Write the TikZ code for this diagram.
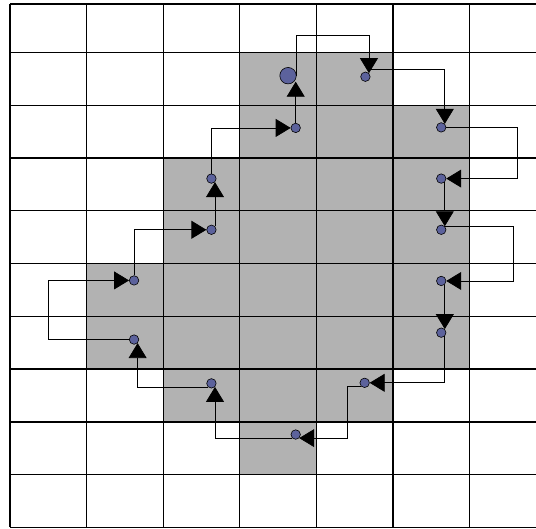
\documentclass[tikz,border=0pt]{standalone}
\usepackage{xcolor}
\usetikzlibrary{arrows.meta}

\definecolor{pixgray}{RGB}{178,178,178}
\definecolor{dotblue}{RGB}{92,98,156}

\tikzset{
  dot/.style={circle,draw=black,fill=dotblue,line width=.6pt,inner sep=0pt,minimum size=9.5pt},
  startdot/.style={dot,minimum size=16.5pt},
  link/.style={line width=.7pt,-{Triangle[length=15pt,width=18pt]}}
}

\begin{document}
\begin{tikzpicture}[x=2.7cm,y=-1.86cm]
\clip (-.13,.006) rectangle (6.867,10.025);
\fill[pixgray] (3,1) -- (5,1) -- (5,2) -- (6,2) -- (6,7) -- (5,7) -- (5,8) -- (4,8) -- (4,9) -- (3,9) -- (3,8) -- (2,8) -- (2,7) -- (1,7) -- (1,5) -- (2,5) -- (2,3) -- (3,3) -- cycle;
\foreach \i in {0,...,7} \draw[line width=1.3pt] (\i,.081) -- (\i,10);
\foreach \j in {1,...,10} \draw[line width=1.3pt] (0,\j) -- (7,\j);
\draw[line width=1.3pt] (0,.081) -- (7,.081);
\node[startdot] (s) at (3.63,1.44) {};
\node[dot] (t1) at (4.64,1.46) {};
\node[dot] (t2) at (5.63,2.42) {};
\node[dot] (t3) at (5.63,3.39) {};
\node[dot] (t4) at (5.63,4.36) {};
\node[dot] (t5) at (5.63,5.33) {};
\node[dot] (t6) at (5.63,6.31) {};
\node[dot] (t7) at (4.63,7.26) {};
\node[dot] (t8) at (3.73,8.24) {};
\node[dot] (t9) at (2.63,7.27) {};
\node[dot] (t10) at (1.62,6.44) {};
\node[dot] (t11) at (1.62,5.32) {};
\node[dot] (t12) at (2.63,4.36) {};
\node[dot] (t13) at (2.63,3.39) {};
\node[dot] (t14) at (3.73,2.43) {};
\draw[link] (s.east) -- ++(0,-.77) -| (t1.north east);
\draw[link] (t1.north east) ++(0,-.08) -| (t2.north east);
\draw[link] (t2.east) -- ++(.93,0) |- (t3.east);
\draw[link] (t3.south east) -- (t4.north east);
\draw[link] (t4.north east) -- ++(.9,0) |- (t5.east);
\draw[link] (t5.south east) -- (t6.north east);
\draw[link] (t6.south east) |- (t7.east);
\draw[link] (t7.south west) -- ++(-.18,0) |- (t8.south east);
\draw[link] (t8.south west) -| (t9.south east);
\draw[link] (t9.south west) -| (t10.south east);
\draw[link] (t10.west) -- ++(-1.05,0) |- (t11.west);
\draw[link] (t11.north) |- (t12.west);
\draw[link] (t12.north east) -- (t13.south east);
\draw[link] (t13.north) |- (t14.west);
\draw[link] (t14.north) -- (t14 |- s.south east);
\end{tikzpicture}
\end{document}
